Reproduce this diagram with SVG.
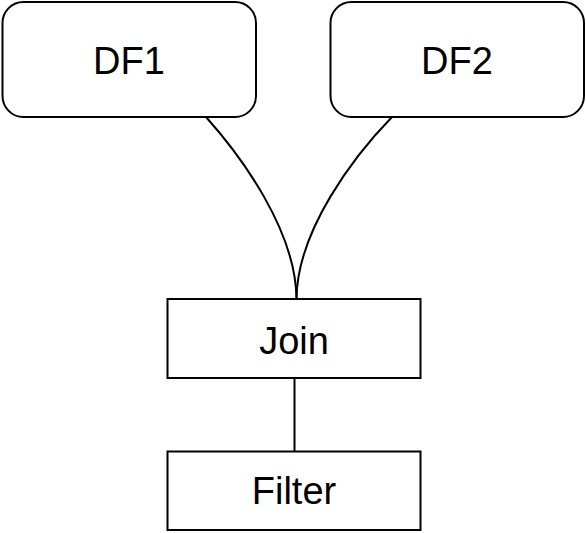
<svg xmlns="http://www.w3.org/2000/svg" width="586" height="533" viewBox="0 0 586 533">
<style>
.box{fill:#fff;stroke:#000;stroke-width:2}
.lbl{font-family:"Liberation Sans",Arial,Helvetica,sans-serif;font-size:38px;fill:#000;text-anchor:middle}
.edge{fill:none;stroke:#000;stroke-width:2}
</style>
<rect width="586" height="533" fill="#fff"/>
<g id="connectors">
<path class="edge" d="M206,117 C240,155 296,230 296.5,299"/>
<path class="edge" d="M392,117 C355,155 297,230 296.5,299"/>
<path class="edge" d="M294.5,378 L294.5,451"/>
</g>
<g id="df1">
<rect class="box" x="2.5" y="2" width="253.5" height="115" rx="21" ry="21"/>
<text class="lbl" x="129" y="73.5">DF1</text>
</g>
<g id="df2">
<rect class="box" x="330.5" y="2" width="253.5" height="115" rx="21" ry="21"/>
<text class="lbl" x="457" y="73.5">DF2</text>
</g>
<g id="join">
<rect class="box" x="167.5" y="299" width="253" height="79"/>
<text class="lbl" x="294" y="354">Join</text>
</g>
<g id="filter">
<rect class="box" x="167.5" y="451.5" width="253" height="78.5"/>
<text class="lbl" x="294" y="503.5">Filter</text>
</g>
</svg>
